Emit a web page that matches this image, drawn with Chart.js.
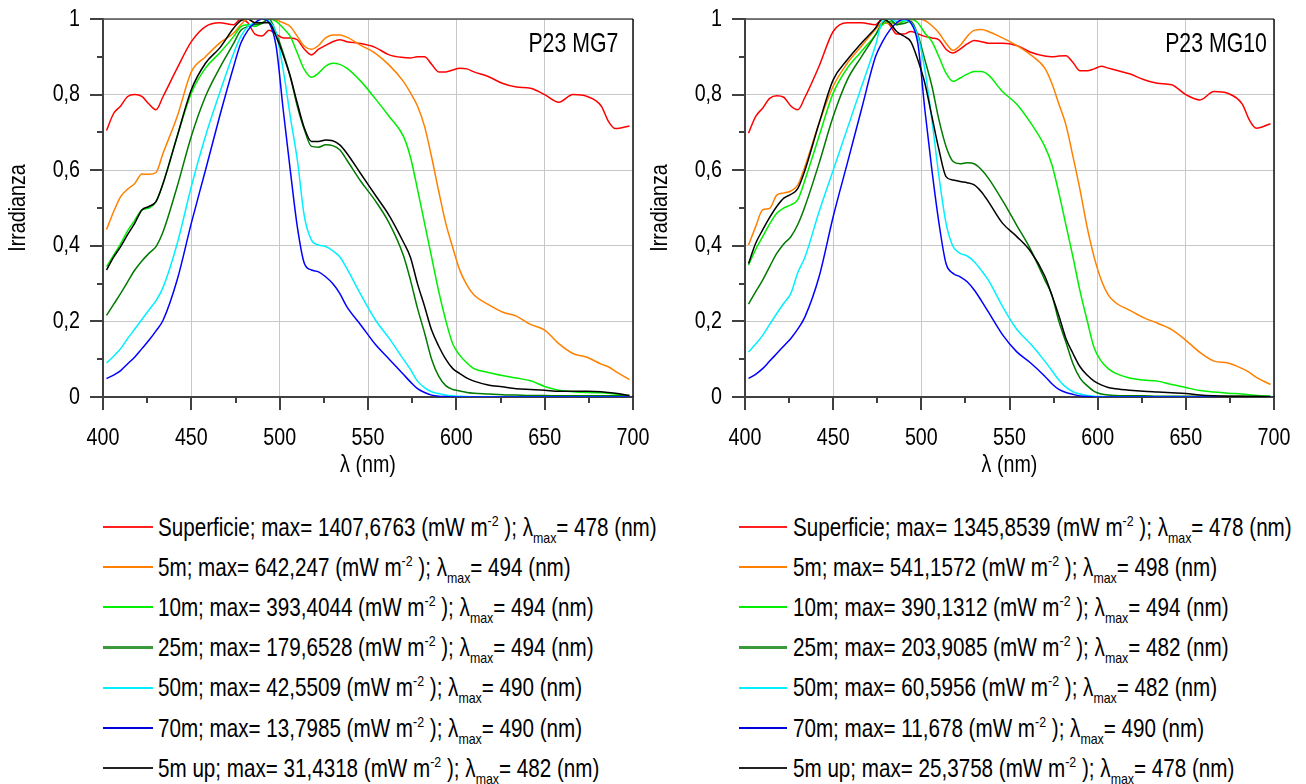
<!DOCTYPE html>
<html><head><meta charset="utf-8">
<script src="https://cdn.jsdelivr.net/npm/chart.js@4.4.1/dist/chart.umd.min.js"></script>
<style>
html,body{margin:0;padding:0;background:#fff;}
body{width:1306px;height:784px;overflow:hidden;position:relative;font-family:"Liberation Sans",Arial,sans-serif;color:#000;}
.cw{position:absolute;top:0;}
.tag{position:absolute;top:29px;font-size:28px;line-height:28px;white-space:nowrap;transform:scaleX(0.76);transform-origin:right center;}
.legend{position:absolute;top:507px;}
.row{height:40.2px;display:flex;align-items:center;font-size:25px;white-space:nowrap;}
.sw{display:inline-block;height:0;}
.txt{display:inline-block;transform:scaleX(0.825);transform-origin:left center;}
sup,sub{font-size:15px;line-height:0;position:relative;vertical-align:baseline;}
sup{top:-10px;} sub{top:7px;}
</style></head>
<body>
<div class="cw" style="left:0"><canvas id="c1" width="660" height="480" style="width:660px;height:480px"></canvas></div>
<div class="cw" style="left:642px"><canvas id="c2" width="660" height="480" style="width:660px;height:480px"></canvas></div>
<div class="tag" style="right:688px">P23 MG7</div>
<div class="tag" style="right:39px">P23 MG10</div>
<div class="legend" id="leg1" style="left:103px"></div>
<div class="legend" id="leg2" style="left:739px"></div>
<script>
// wavelength (nm)
const lambda = [402,406,410,414,418,422,426,430,434,
  442,450,458,466,474,
  478,482,486,490,494,498,502,506,510,514,518,522,526,530,534,538,
  546,554,562,570,
  574,578,582,586,590,594,598,602,606,610,
  618,626,634,642,650,658,666,674,682,686,690,698];

// ---- P23 MG7 (normalised irradiance) ----
const mg7Superficie = [.705,.75,.77,.795,.80,.795,.775,.76,.795,
  .87,.94,.98,.99,.985,
  1.0,.99,.96,.955,.97,.96,.95,.95,.945,.92,.905,.92,.93,.94,.945,.94,
  .935,.925,.905,.898,
  .897,.9,.9,.88,.86,.86,.865,.87,.868,.86,
  .848,.83,.82,.817,.80,.78,.80,.795,.77,.73,.71,.717];
const mg7_5m = [.443,.49,.53,.55,.565,.59,.589,.594,.645,
  .742,.86,.90,.936,.963,
  .985,1.0,.99,.99,1.0,.997,.99,.98,.954,.928,.92,.93,.95,.958,.958,.952,
  .93,.91,.878,.835,
  .805,.77,.716,.635,.545,.46,.395,.335,.296,.27,
  .245,.225,.214,.192,.177,.141,.115,.105,.087,.08,.068,.046];
const mg7_10m = [.345,.375,.406,.44,.468,.495,.50,.517,.565,
  .69,.804,.87,.91,.954,
  .98,.985,.98,.99,1.0,.994,.976,.954,.91,.866,.846,.857,.875,.883,.88,.87,
  .835,.79,.742,.69,
  .635,.55,.46,.37,.28,.203,.14,.11,.09,.075,
  .065,.057,.05,.043,.028,.018,.014,.012,.011,.01,.008,.004];
const mg7_25m = [.216,.245,.274,.305,.336,.36,.38,.398,.437,
  .557,.69,.795,.87,.936,
  .97,.98,.985,.988,1.0,.963,.91,.848,.769,.707,.663,.661,.667,.665,.654,.627,
  .57,.52,.46,.375,
  .31,.235,.17,.1,.055,.03,.02,.016,.012,.01,
  .008,.006,.005,.004,.004,.003,.003,.003,.003,.003,.003,.003];
const mg7_50m = [.09,.108,.128,.155,.18,.205,.23,.255,.29,
  .406,.557,.69,.804,.91,
  .954,.98,.99,1.0,.994,.963,.866,.742,.627,.477,.415,.402,.398,.387,.371,.34,
  .27,.205,.155,.1,
  .073,.042,.025,.014,.009,.005,.003,.002,.001,0,
  0,0,0,0,0,0,0,0,0,0,0,0];
const mg7_70m = [.049,.058,.07,.088,.106,.128,.15,.175,.203,
  .31,.46,.60,.742,.875,
  .936,.97,.99,1.0,.99,.928,.76,.60,.45,.353,.336,.331,.318,.30,.274,.239,
  .19,.14,.1,.06,
  .04,.022,.012,.005,.002,.001,0,0,0,0,
  0,0,0,0,0,0,0,0,0,0,0,0];
const mg7_5mUp = [.336,.37,.398,.43,.46,.495,.504,.517,.565,
  .69,.813,.883,.923,.976,
  .996,1.0,.99,.99,.99,.954,.905,.848,.777,.711,.676,.676,.68,.678,.667,.645,
  .59,.535,.48,.41,
  .37,.3,.24,.177,.135,.1,.075,.062,.05,.042,
  .032,.027,.022,.02,.018,.015,.015,.015,.014,.012,.01,.004];

// ---- P23 MG10 (normalised irradiance) ----
const mg10Superficie = [.698,.742,.764,.79,.797,.793,.77,.76,.793,
  .875,.967,.99,.99,.985,
  1.0,.985,.96,.96,.967,.961,.954,.95,.945,.92,.91,.92,.934,.943,.94,.936,
  .936,.93,.912,.902,
  .9,.902,.903,.885,.863,.863,.868,.875,.87,.865,
  .855,.84,.83,.826,.8,.786,.808,.803,.775,.733,.711,.723];
const mg10_5m = [.402,.45,.495,.499,.534,.54,.545,.561,.61,
  .724,.822,.883,.928,.972,
  .99,.988,.988,.996,.998,1.0,.996,.982,.963,.936,.917,.93,.954,.97,.972,.967,
  .95,.93,.905,.87,
  .83,.775,.72,.636,.548,.45,.37,.31,.27,.25,
  .23,.21,.195,.178,.15,.118,.095,.09,.075,.065,.052,.033];
const mg10_10m = [.349,.39,.424,.458,.486,.5,.508,.523,.574,
  .69,.804,.87,.914,.958,
  .985,.994,.985,.994,1.0,.99,.963,.94,.90,.857,.835,.844,.854,.861,.861,.852,
  .808,.775,.725,.663,
  .615,.54,.455,.37,.28,.203,.13,.095,.075,.063,
  .05,.045,.042,.033,.025,.017,.013,.01,.008,.006,.004,.002];
const mg10_25m = [.246,.278,.309,.345,.38,.405,.424,.457,.504,
  .618,.742,.839,.90,.958,
  .99,1.0,.985,.988,.994,.958,.892,.822,.733,.663,.623,.617,.62,.617,.602,.579,
  .52,.455,.39,.31,
  .27,.2,.145,.088,.05,.03,.015,.008,.005,.004,
  .003,.003,.002,.002,.002,.002,.002,.002,.002,.002,.002,.002];
const mg10_50m = [.119,.14,.163,.192,.221,.248,.274,.33,.37,
  .49,.60,.71,.82,.93,
  .994,1.0,.994,.997,.99,.954,.866,.733,.583,.46,.398,.38,.373,.358,.335,.309,
  .24,.18,.14,.095,
  .07,.045,.026,.014,.008,.004,.002,.001,0,0,
  0,0,0,0,0,0,0,0,0,0,0,0];
const mg10_70m = [.049,.06,.075,.095,.115,.135,.155,.18,.212,
  .318,.477,.618,.76,.90,
  .94,.97,.99,1.0,.99,.936,.76,.60,.46,.353,.327,.318,.305,.283,.255,.225,
  .165,.12,.09,.055,
  .035,.02,.012,.007,.003,.001,0,0,0,0,
  0,0,0,0,0,0,0,0,0,0,0,0];
const mg10_5mUp = [.353,.406,.442,.475,.504,.526,.536,.552,.60,
  .724,.839,.892,.936,.976,
  1.0,.99,.967,.955,.94,.892,.83,.742,.654,.583,.574,.57,.567,.561,.543,.517,
  .46,.425,.385,.32,
  .27,.215,.155,.115,.08,.058,.042,.032,.025,.022,
  .018,.015,.013,.011,.009,.005,.003,.002,.002,.001,.001,0];

// y tick labels (comma decimals)
const yTickLabels = {0:'0',0.2:'0,2',0.4:'0,4',0.6:'0,6',0.8:'0,8',1:'1'};

const seriesNames = ['Superficie','5m','10m','25m','50m','70m','5m up'];
const seriesColors = ['#ff0000','#ff8000','#00ee00','#007a00','#00f0ff','#0000ff','#000000'];
const legendColors = ['#ff2020','#ff8000','#00ee00','#3a9a3a','#00f0ff','#0000dd','#222222'];
const legend7 = [['1407,6763','478'],['642,247','494'],['393,4044','494'],['179,6528','494'],['42,5509','490'],['13,7985','490'],['31,4318','482']];
const legend10 = [['1345,8539','478'],['541,1572','498'],['390,1312','494'],['203,9085','482'],['60,5956','482'],['11,678','490'],['25,3758','478']];

const NARROW = 0.82;
Chart.defaults.font.family = '"Liberation Sans", Arial, sans-serif';
Chart.defaults.color = '#000';

// render canvas text horizontally condensed (Arial-Narrow look)
const narrowPlugin = {
  id:'narrow',
  beforeDraw(chart){
    const ctx = chart.ctx;
    if (ctx.__narrow) return;
    const orig = ctx.fillText;
    ctx.fillText = function(t, x, y, mw){
      this.save();
      this.translate(x, y);
      this.scale(NARROW, 1);
      if (mw === undefined) orig.call(this, t, 0, 0);
      else orig.call(this, t, 0, 0, mw / NARROW);
      this.restore();
    };
    ctx.__narrow = true;
  }
};

const framePlugin = {
  id:'frame',
  afterDraw(chart){
    const {ctx, chartArea:a, scales:{x,y}} = chart;
    ctx.save();
    ctx.strokeStyle = '#404040';
    ctx.lineWidth = 2;
    ctx.beginPath();
    for (let v = 0; v <= 10; v++) {
      const py = Math.round(y.getPixelForValue(v/10));
      const len = v % 2 === 0 ? 13 : 6;
      ctx.moveTo(a.left - len, py); ctx.lineTo(a.left, py);
    }
    for (let v = 400; v <= 700; v += 25) {
      const px = Math.round(x.getPixelForValue(v));
      const len = v % 50 === 0 ? 13 : 6;
      ctx.moveTo(px, a.bottom); ctx.lineTo(px, a.bottom + len);
    }
    ctx.stroke();
    ctx.lineWidth = 1.5;
    ctx.strokeStyle = '#505050';
    ctx.beginPath();
    ctx.moveTo(a.left, a.top); ctx.lineTo(a.right, a.top);
    ctx.stroke();
    ctx.strokeStyle = '#111';
    ctx.beginPath();
    ctx.moveTo(a.right, a.top); ctx.lineTo(a.right, a.bottom);
    ctx.stroke();
    ctx.restore();
  }
};

function makeChart(id, data, padRight){
  const datasets = data.map((vals,i)=>({
    label: seriesNames[i],
    data: vals.map((v,k)=>({x:lambda[k], y:v})),
    borderColor: seriesColors[i],
    borderWidth: 1.5,
    pointRadius: 0,
    fill: false,
    cubicInterpolationMode: 'monotone',
    order: -i
  }));
  return new Chart(document.getElementById(id), {
    type:'line',
    data:{datasets},
    plugins:[narrowPlugin, framePlugin],
    options:{
      responsive:false, animation:false, devicePixelRatio:1,
      layout:{padding:{left:0,top:19,right:padRight,bottom:0}},
      plugins:{legend:{display:false}, tooltip:{enabled:false}},
      scales:{
        x:{type:'linear', min:400, max:700,
          ticks:{stepSize:50, font:{size:24}, color:'#000', padding:27, maxRotation:0, autoSkip:false},
          grid:{color:'#c8c8c8', lineWidth:1, drawTicks:false},
          border:{color:'#404040', width:2},
          title:{display:true, text:'λ (nm)', font:{size:24}, color:'#000', padding:{top:0,bottom:0}},
          afterFit:s=>{s.height = 83; s.paddingLeft = 0; s.paddingRight = 0;}
        },
        y:{type:'linear', min:0, max:1,
          ticks:{stepSize:0.2, font:{size:24}, color:'#000', padding:23,
            callback:v=>yTickLabels[Math.round(v*10)/10] ?? ''},
          grid:{color:'#c8c8c8', lineWidth:1, drawTicks:false},
          border:{color:'#404040', width:2},
          title:{display:true, text:'Irradianza', font:{size:24}, color:'#000', padding:{top:4,bottom:0}},
          afterFit:s=>{s.width = 103; s.paddingTop = 0; s.paddingBottom = 0;}
        }
      }
    }
  });
}

makeChart('c1', [mg7Superficie, mg7_5m, mg7_10m, mg7_25m, mg7_50m, mg7_70m, mg7_5mUp], 27);
makeChart('c2', [mg10Superficie, mg10_5m, mg10_10m, mg10_25m, mg10_50m, mg10_70m, mg10_5mUp], 28);

function buildLegend(elId, entries, swWidth, gap){
  const el = document.getElementById(elId);
  entries.forEach((e,i)=>{
    const row = document.createElement('div');
    row.className = 'row';
    const sw = document.createElement('span');
    sw.className = 'sw';
    sw.style.width = swWidth+'px';
    sw.style.marginRight = gap+'px';
    sw.style.borderTop = (i===3 ? 3 : 2) + 'px solid ' + legendColors[i];
    const t = document.createElement('span');
    t.className = 'txt';
    t.innerHTML = seriesNames[i] + '; max= ' + e[0] + ' (mW m<sup>-2</sup> ); λ<sub>max</sub>= ' + e[1] + ' (nm)';
    row.appendChild(sw); row.appendChild(t);
    el.appendChild(row);
  });
}
buildLegend('leg1', legend7, 50, 5);
buildLegend('leg2', legend10, 48, 6);
</script>
</body></html>
